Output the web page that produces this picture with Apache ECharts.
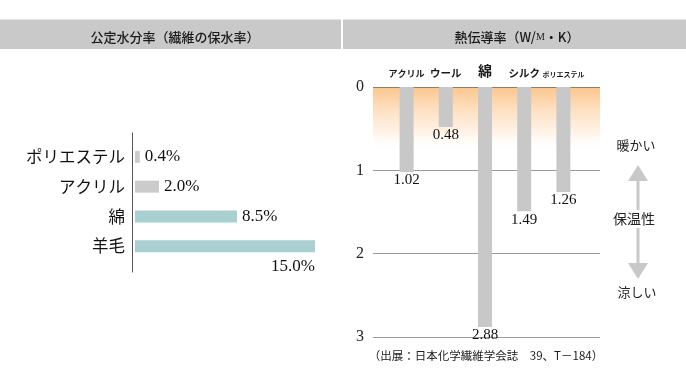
<!DOCTYPE html>
<html><head><meta charset="utf-8">
<script src="https://cdn.jsdelivr.net/npm/echarts@6/dist/echarts.min.js"></script>
<style>html,body{margin:0;padding:0;background:#fff}#c{width:686px;height:386px}</style>
</head><body><div id="c"></div>
<script>
// ---- data ----
const leftTitle = '公定水分率（繊維の保水率）';
const leftCats = ['ポリエステル', 'アクリル', '綿', '羊毛'];
const leftVals = [0.4, 2.0, 8.5, 15.0];
const leftColors = ['#cbcbcb', '#cbcbcb', '#a9cfd1', '#a9cfd1'];

const rightTitle = '熱伝導率（W/{m|M}・K）';
const rightCats = ['アクリル', 'ウール', '綿', 'シルク', 'ポリエステル'];
const rightVals = [1.02, 0.48, 2.88, 1.49, 1.26];
const rightTicks = [0, 1, 2, 3];
const source = '（出展：日本化学繊維学会誌　39、T－184）';
const warmText = '暖かい', midText = '保温性', coolText = '涼しい';

const JP = '"Noto Sans CJK JP", "Noto Sans", sans-serif';
const SERIF = '"Liberation Serif", "DejaVu Serif", serif';

const chart = echarts.init(document.getElementById('c'), null, {renderer: 'canvas'});

const catSize = {'アクリル': 9, 'ウール': 10.5, '綿': 14, 'シルク': 10.5, 'ポリエステル': 7};

const option = {
  animation: false,
  backgroundColor: '#fff',
  title: [
    {text: leftTitle, left: 170, top: 26, textAlign: 'center',
     textStyle: {fontFamily: JP, fontSize: 13, fontWeight: 500, color: '#1a1a1a'}},
    {text: rightTitle, left: 512, top: 26, textAlign: 'center',
     textStyle: {fontFamily: JP, fontSize: 13, fontWeight: 500, color: '#1a1a1a',
       rich: {m: {fontFamily: SERIF, fontSize: 10, color: '#1a1a1a'}}}}
  ],
  grid: [
    {left: 135, width: 180, top: 142, height: 119},
    {left: 132, width: 10, top: 133, height: 139},
    {left: 387, width: 196, top: 87, height: 250},
    {left: 373, width: 227, top: 87, height: 250}
  ],
  xAxis: [
    {gridIndex: 0, type: 'value', min: 0, max: 15, show: false},
    {gridIndex: 1, type: 'value', show: false},
    {gridIndex: 2, type: 'category', data: rightCats, position: 'top',
     axisLine: {show: false}, axisTick: {show: false},
     axisLabel: {margin: 9, color: '#1a1a1a', fontFamily: JP, interval: 0,
       formatter: v => '{s' + String(catSize[v]).replace('.', '_') + '|' + v + '}',
       rich: Object.fromEntries(Object.values(catSize).map(s => ['s' + String(s).replace('.', '_'), {fontSize: s, fontWeight: 'bold', fontFamily: JP, color: '#1a1a1a'}]))}},
    {gridIndex: 3, type: 'value', min: 0, max: 1, show: false}
  ],
  yAxis: [
    {gridIndex: 0, type: 'category', data: leftCats, inverse: true,
     axisLine: {show: false}, axisTick: {show: false},
     axisLabel: {margin: 10, fontFamily: JP, fontSize: 16.5, fontWeight: 'normal', color: '#111'}},
    {gridIndex: 1, type: 'value', min: 0, max: 1,
     axisLine: {show: true, lineStyle: {color: '#555', width: 1}},
     axisTick: {show: false}, axisLabel: {show: false}, splitLine: {show: false}},
    {gridIndex: 2, type: 'value', inverse: true, min: 0, max: 3, show: false},
    {gridIndex: 3, type: 'value', inverse: true, min: 0, max: 3, interval: 1, z: 1.5,
     axisLine: {show: false}, axisTick: {show: false},
     axisLabel: {margin: 9, fontFamily: SERIF, fontSize: 16, color: '#222',
       formatter: v => rightTicks.includes(v) ? String(v) : ''},
     splitLine: {lineStyle: {color: ['#9c7a5c', '#9a9a9a', '#9a9a9a', '#9a9a9a'], width: 1}}}
  ],
  series: [
    {type: 'bar', xAxisIndex: 0, yAxisIndex: 0, barWidth: 12,
     data: leftVals.map((v, i) => {
       const item = {value: v, itemStyle: {color: leftColors[i]}};
       if (i === leftVals.length - 1) {
         item.label = {position: ['100%', '100%'], align: 'right', verticalAlign: 'top', offset: [0, 6]};
       }
       return item;
     }),
     label: {show: true, position: 'right', distance: 5, fontFamily: SERIF, fontSize: 17, color: '#111',
       formatter: p => p.value.toFixed(1) + '%'}},
    {type: 'line', xAxisIndex: 3, yAxisIndex: 3, data: [], z: 1, silent: true,
     markArea: {silent: true,
       itemStyle: {color: {type: 'linear', x: 0, y: 0, x2: 0, y2: 1, colorStops: [
         {offset: 0, color: '#fbc68e'}, {offset: 0.35, color: '#fde0c2'},
         {offset: 0.7, color: '#fff3e8'}, {offset: 1, color: 'rgba(255,255,255,0)'}]}},
       data: [[{yAxis: 0, xAxis: 0}, {yAxis: 0.78, xAxis: 1}]]}},
    {type: 'bar', xAxisIndex: 2, yAxisIndex: 2, barWidth: 14, z: 3,
     itemStyle: {color: '#c8c8c8'},
     data: rightVals,
     label: {show: true, position: 'bottom', distance: 1, fontFamily: SERIF, fontSize: 15, color: '#111',
       formatter: p => p.value.toFixed(2)}}
  ],
  graphic: [
    {type: 'rect', shape: {x: 0, y: 19.5, width: 341, height: 29.5}, style: {fill: '#c9c9c9'}, z: -1},
    {type: 'rect', shape: {x: 343, y: 19.5, width: 343, height: 29.5}, style: {fill: '#c9c9c9'}, z: -1},
    {type: 'line', shape: {x1: 638, y1: 176, x2: 638, y2: 268}, style: {stroke: '#c8c8c8', lineWidth: 3}},
    {type: 'polygon', shape: {points: [[628, 181], [648, 181], [638, 165]]}, style: {fill: '#c8c8c8'}},
    {type: 'polygon', shape: {points: [[628, 263], [648, 263], [638, 279]]}, style: {fill: '#c8c8c8'}},
    {type: 'text', x: 636, y: 145, style: {text: warmText, fontFamily: JP, fontSize: 13, fill: '#222', align: 'center', verticalAlign: 'middle'}},
    {type: 'text', x: 634, y: 219, style: {text: midText, fontFamily: JP, fontSize: 14, fill: '#222', align: 'center', verticalAlign: 'middle', backgroundColor: '#fff', padding: [2, 0]}},
    {type: 'text', x: 637, y: 292, style: {text: coolText, fontFamily: JP, fontSize: 13, fill: '#222', align: 'center', verticalAlign: 'middle'}},
    {type: 'text', x: 486, y: 356, style: {text: source, fontFamily: JP, fontSize: 11.5, fill: '#222', align: 'center', verticalAlign: 'middle'}}
  ]
};
chart.setOption(option);
</script></body></html>
